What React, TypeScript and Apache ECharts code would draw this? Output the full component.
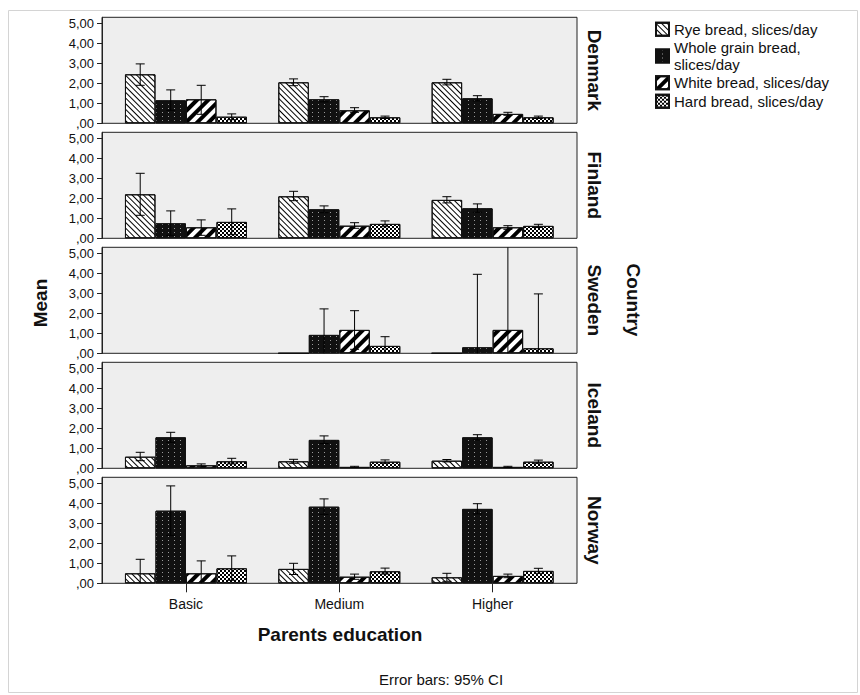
import React, { useEffect, useRef } from "react";
import * as echarts from "echarts";

const categories = ["Basic", "Medium", "Higher"];
const countries = ["Denmark", "Finland", "Sweden", "Iceland", "Norway"];
const breads = [
  "Rye bread, slices/day",
  "Whole grain bread, slices/day",
  "White bread, slices/day",
  "Hard bread, slices/day",
];
const yTicks = [0, 1, 2, 3, 4, 5];

// rows: Rye, Whole grain, White, Hard ; columns: Basic, Medium, Higher
const denmarkMean = [[2.45, 2.05, 2.05], [1.15, 1.2, 1.25], [1.2, 0.65, 0.47], [0.33, 0.3, 0.3]];
const denmarkLow = [[1.9, 1.88, 1.92], [0.65, 1.07, 1.12], [0.45, 0.55, 0.4], [0.18, 0.24, 0.24]];
const denmarkHigh = [[2.97, 2.22, 2.2], [1.67, 1.33, 1.38], [1.9, 0.78, 0.55], [0.47, 0.36, 0.36]];

const finlandMean = [[2.2, 2.1, 1.92], [0.75, 1.45, 1.5], [0.55, 0.63, 0.55], [0.82, 0.72, 0.62]];
const finlandLow = [[1.15, 1.88, 1.77], [0.15, 1.28, 1.3], [0.15, 0.5, 0.45], [0.18, 0.58, 0.54]];
const finlandHigh = [[3.25, 2.35, 2.08], [1.37, 1.62, 1.72], [0.92, 0.78, 0.63], [1.47, 0.87, 0.7]];

const swedenMean = [[null, 0, 0], [null, 0.92, 0.3], [null, 1.17, 1.17], [null, 0.37, 0.25]];
const swedenLow = [[null, null, null], [null, -0.4, -3.35], [null, 0.2, -2.8], [null, -0.1, -2.5]];
const swedenHigh = [[null, null, null], [null, 2.22, 3.95], [null, 2.13, 7.2], [null, 0.83, 2.97]];

const icelandMean = [[0.58, 0.35, 0.38], [1.55, 1.42, 1.55], [0.15, 0.07, 0.07], [0.35, 0.33, 0.33]];
const icelandLow = [[0.38, 0.25, 0.32], [1.3, 1.24, 1.42], [0.08, 0.04, 0.04], [0.22, 0.25, 0.25]];
const icelandHigh = [[0.8, 0.45, 0.44], [1.8, 1.62, 1.68], [0.22, 0.1, 0.1], [0.5, 0.42, 0.41]];

const norwayMean = [[0.5, 0.72, 0.3], [3.63, 3.83, 3.72], [0.5, 0.33, 0.37], [0.75, 0.6, 0.62]];
const norwayLow = [[-0.2, 0.44, 0.1], [2.4, 3.45, 3.47], [-0.12, 0.2, 0.28], [0.15, 0.46, 0.5]];
const norwayHigh = [[1.2, 1.0, 0.5], [4.87, 4.22, 3.98], [1.12, 0.46, 0.46], [1.37, 0.76, 0.75]];

const means = [denmarkMean, finlandMean, swedenMean, icelandMean, norwayMean];
const lows = [denmarkLow, finlandLow, swedenLow, icelandLow, norwayLow];
const highs = [denmarkHigh, finlandHigh, swedenHigh, icelandHigh, norwayHigh];

const FONT = '"Liberation Sans", Arial, sans-serif';
const BW = 30.5;
const YMAX = 5.3;
const PANEL_H = 106;
const Z0 = 123.3;
const STEP = 115;

const bgColors = ["#ffffff", "#111111", "#ffffff", "#ffffff"];
const decals: any[] = [
  { symbol: "rect", symbolSize: 1, dashArrayX: [1, 0], dashArrayY: [1, 2.6], rotation: Math.PI / 4, color: "#000" },
  { symbol: "rect", symbolSize: 1, dashArrayX: [1, 5], dashArrayY: [1, 3], color: "#9a9a9a" },
  { symbol: "rect", symbolSize: 1, dashArrayX: [1, 0], dashArrayY: [3.5, 3.5], rotation: -Math.PI / 4, color: "#000" },
  { symbol: "rect", symbolSize: 1, dashArrayX: [[2, 2], [0, 2, 2, 0]], dashArrayY: [2, 0], color: "#000" },
];

export default function App() {
  const ref = useRef<HTMLDivElement>(null);
  useEffect(() => {
    if (!ref.current) return;
    const chart = echarts.init(ref.current, null, { renderer: "svg" });
    const grids: any[] = [];
    const xAxes: any[] = [];
    const yAxes: any[] = [];
    const series: any[] = [];
    const graphics: any[] = [];

    countries.forEach((country, i) => {
      const zero = Z0 + STEP * i;
      const top = zero - PANEL_H;
      grids.push({
        left: 102, width: 475, top, height: PANEL_H, show: true,
        backgroundColor: "#eeeeee", borderColor: "#222", borderWidth: 1,
      });
      grids.push({ left: 109.3, width: 460, top, height: PANEL_H });
      xAxes.push({ gridIndex: 2 * i, type: "value", min: 0, max: 1, show: false });
      yAxes.push({
        gridIndex: 2 * i, type: "value", min: 0, max: YMAX,
        axisLine: { show: true, lineStyle: { color: "#222", width: 1 } },
        axisTick: { show: true, customValues: yTicks, length: 5, lineStyle: { color: "#222" } },
        axisLabel: {
          customValues: yTicks, margin: 8, color: "#111", fontSize: 13, lineHeight: 13, fontFamily: FONT,
          formatter: (v: number) => (v === 0 ? ",00" : v.toFixed(2).replace(".", ",")),
        },
        splitLine: { show: false },
      });
      const last = i === countries.length - 1;
      xAxes.push({
        gridIndex: 2 * i + 1, type: "category", data: categories,
        axisLine: { show: false },
        axisTick: { show: last, alignWithLabel: true, length: 9, lineStyle: { color: "#222" } },
        axisLabel: { show: last, margin: 14, color: "#111", fontSize: 14, fontFamily: FONT },
      });
      yAxes.push({ gridIndex: 2 * i + 1, type: "value", min: 0, max: YMAX, show: false });

      breads.forEach((bread, b) => {
        series.push({
          type: "bar", name: bread, xAxisIndex: 2 * i + 1, yAxisIndex: 2 * i + 1,
          data: means[i][b], barWidth: BW, barGap: "0%",
          itemStyle: { color: bgColors[b], borderColor: "#111", borderWidth: 1, decal: decals[b] },
          emphasis: { disabled: true },
        });
      });

      const errData: any[] = [];
      breads.forEach((_, b) => {
        categories.forEach((_, c) => {
          const lo = lows[i][b][c];
          const hi = highs[i][b][c];
          if (lo !== null && hi !== null) errData.push([c, b, lo, hi]);
        });
      });
      series.push({
        type: "custom", xAxisIndex: 2 * i + 1, yAxisIndex: 2 * i + 1, z: 5,
        data: errData, encode: { x: 0, y: 3 }, silent: true,
        renderItem: (params: any, api: any) => {
          const c = api.value(0), b = api.value(1), lo = api.value(2), hi = api.value(3);
          const cs = params.coordSys;
          const cx = api.coord([c, 0])[0] + (b - 1.5) * BW;
          const yTop = cs.y, yBot = cs.y + cs.height;
          let y1 = api.coord([c, hi])[1];
          let y0 = api.coord([c, lo])[1];
          const capHi = y1 >= yTop;
          const capLo = y0 <= yBot;
          y1 = Math.max(y1, yTop);
          y0 = Math.min(y0, yBot);
          const st = { stroke: "#000", lineWidth: 1 };
          const children: any[] = [
            { type: "line", shape: { x1: cx, y1: y0, x2: cx, y2: y1 }, style: st },
          ];
          if (capHi) children.push({ type: "line", shape: { x1: cx - 4.5, y1, x2: cx + 4.5, y2: y1 }, style: st });
          if (capLo) children.push({ type: "line", shape: { x1: cx - 4.5, y1: y0, x2: cx + 4.5, y2: y0 }, style: st });
          return { type: "group", children };
        },
      });

      graphics.push({
        type: "text", x: 594, y: zero - 53, rotation: -Math.PI / 2,
        style: { text: country, font: `bold 19px ${FONT}`, fill: "#111", textAlign: "center", textVerticalAlign: "middle" },
      });
    });

    graphics.push(
      { type: "rect", shape: { x: 8.5, y: 10.5, width: 849, height: 682 }, style: { fill: "none", stroke: "#d4d4d4", lineWidth: 1 }, z: -1 },
      { type: "text", x: 633, y: 300, rotation: -Math.PI / 2, style: { text: "Country", font: `bold 19px ${FONT}`, fill: "#111", textAlign: "center", textVerticalAlign: "middle" } },
      { type: "text", x: 40, y: 303, rotation: Math.PI / 2, style: { text: "Mean", font: `bold 19px ${FONT}`, fill: "#111", textAlign: "center", textVerticalAlign: "middle" } },
      { type: "text", x: 340, y: 634, style: { text: "Parents education", font: `bold 19px ${FONT}`, fill: "#111", textAlign: "center", textVerticalAlign: "middle" } },
      { type: "text", x: 441, y: 679, style: { text: "Error bars: 95% CI", font: `15px ${FONT}`, fill: "#111", textAlign: "center", textVerticalAlign: "middle" } },
    );

    chart.setOption({
      animation: false,
      backgroundColor: "#ffffff",
      grid: grids,
      xAxis: xAxes,
      yAxis: yAxes,
      series,
      legend: {
        data: breads, orient: "vertical", left: 650, top: 16,
        itemWidth: 13, itemHeight: 13, itemGap: 2, icon: "rect",
        selectedMode: false,
        textStyle: { fontSize: 15, lineHeight: 16.5, color: "#111", fontFamily: FONT },
        formatter: (name: string) => (name === breads[1] ? "Whole grain bread,\nslices/day" : name),
      },
      graphic: graphics,
    });
    return () => chart.dispose();
  }, []);
  return <div ref={ref} style={{ position: "fixed", left: 0, top: 0, width: 860, height: 695 }} />;
}
